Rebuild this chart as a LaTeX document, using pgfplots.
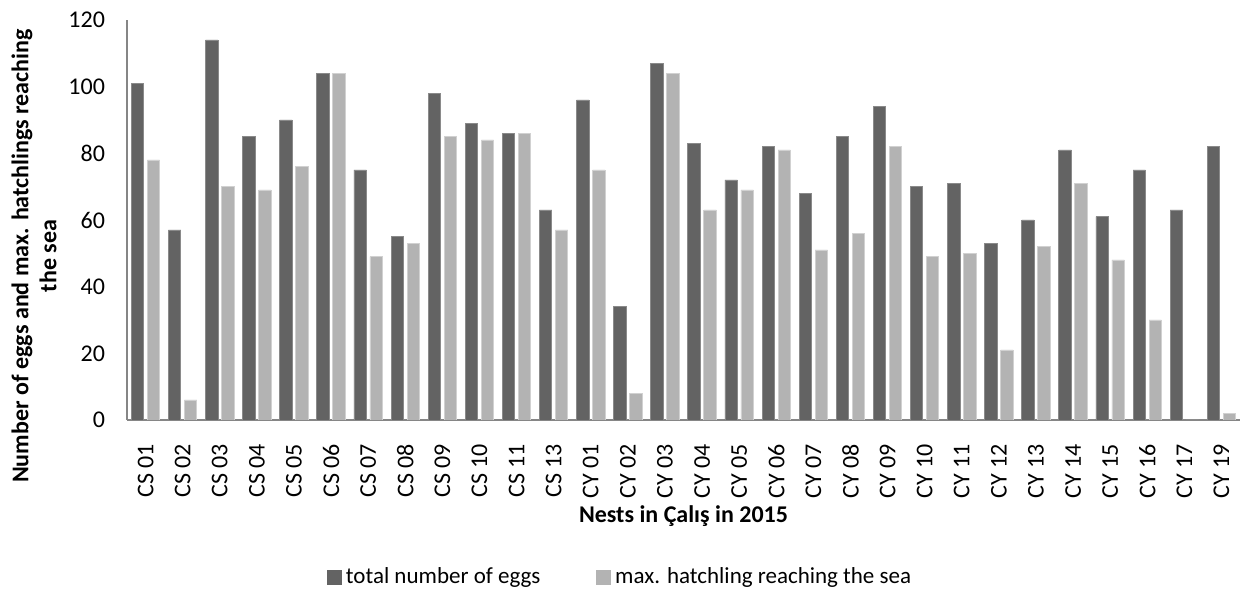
\documentclass[border=0pt]{standalone}
\usepackage{fontspec}
\setmainfont{Carlito}
\usepackage{pgfplots}
\usepackage{pgfplotstable}
\pgfplotsset{compat=1.18}
\definecolor{darkbar}{HTML}{636363}
\definecolor{lightbar}{HTML}{B3B3B3}
\definecolor{axisgray}{HTML}{868686}

\pgfplotstableread{
x eggs hatch
0 101 78
1 57 6
2 114 70
3 85 69
4 90 76
5 104 104
6 75 49
7 55 53
8 98 85
9 89 84
10 86 86
11 63 57
12 96 75
13 34 8
14 107 104
15 83 63
16 72 69
17 82 81
18 68 51
19 85 56
20 94 82
21 70 49
22 71 50
23 53 21
24 60 52
25 81 71
26 61 48
27 75 30
28 63 0
29 82 2
}\datatable

\begin{document}
\begin{tikzpicture}
\begin{axis}[name=ax,
  scale only axis, width=556.5pt, height=200pt,
  ybar=1.8pt, bar width=6.2pt,
  xmin=-0.5, xmax=29.5, ymin=0, ymax=120,
  xtick=data,
  xticklabels={CS 01,CS 02,CS 03,CS 04,CS 05,CS 06,CS 07,CS 08,CS 09,CS 10,CS 11,CS 13,CY 01,CY 02,CY 03,CY 04,CY 05,CY 06,CY 07,CY 08,CY 09,CY 10,CY 11,CY 12,CY 13,CY 14,CY 15,CY 16,CY 17,CY 19},
  ytick={0,20,...,120},
  axis x line*=bottom, axis y line*=left,
  axis line style={axisgray, line width=0.8pt, -},
  major tick length=0pt,
  xticklabel style={rotate=90, anchor=east, font=\fontsize{12}{14}\selectfont},
  xticklabel shift=8.5pt,
  yticklabel style={font=\fontsize{12}{14}\selectfont},
  yticklabel shift=7.5pt,
  /pgf/number format/assume math mode=true,
  xlabel={Nests in Çalış in 2015},
  xlabel style={at={(axis description cs:0.5,-0.24)}, anchor=center, font=\bfseries\fontsize{12}{14}\selectfont},
  ylabel={Number of eggs and max. hatchlings reaching\\the sea},
  ylabel style={at={(axis description cs:-0.0836,0.41)}, anchor=center, align=center, font=\bfseries\fontsize{12}{14}\selectfont},
  legend style={at={(axis description cs:0.444,-0.3925)}, anchor=center, draw=none,
    font=\fontsize{11.5}{13}\selectfont,
    /tikz/every even column/.append style={column sep=26pt}},
  legend columns=2,
]
\addplot[fill=darkbar, draw=darkbar!75!white, line width=0.4pt,
  legend image code/.code={\fill[darkbar] (0pt,-3.5pt) rectangle (7pt,3.5pt);}]
  table[x=x, y=eggs]{\datatable};
\addplot[fill=lightbar, draw=lightbar!60!white, line width=0.4pt,
  legend image code/.code={\fill[lightbar] (0pt,-3.5pt) rectangle (7pt,3.5pt);}]
  table[x=x, y=hatch]{\datatable};
\legend{total number of eggs, max. hatchling reaching the sea}
\end{axis}
\pgfresetboundingbox
\path[use as bounding box] ([xshift=-63.5pt,yshift=-88.5pt]ax.south west) rectangle ([xshift=6.5pt,yshift=10pt]ax.north east);
\end{tikzpicture}
\end{document}
